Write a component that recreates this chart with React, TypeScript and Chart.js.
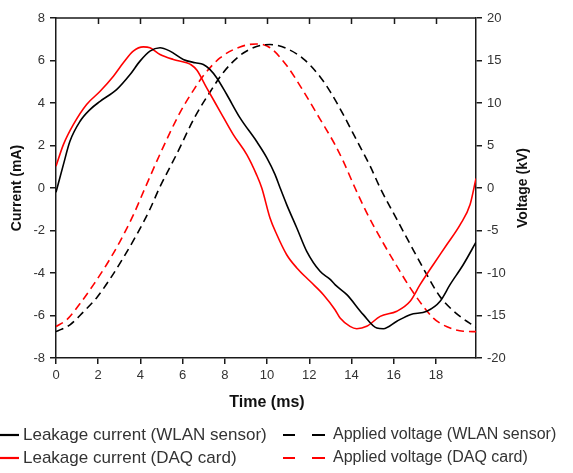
import React, { useEffect, useRef } from 'react';
import { Chart, registerables } from 'chart.js';

Chart.register(...registerables);

// ---- Data (time in ms) ----
const wlanCurrentT = [0, 0.35, 0.66, 1.14, 1.61, 2.09, 2.87, 3.51, 3.98, 4.45, 4.93, 5.4, 6.03, 6.6, 6.98, 7.3, 7.62, 8.09, 8.72, 9.5, 9.99, 10.38, 10.62, 10.93, 11.41, 11.88, 12.51, 12.99, 13.22, 13.78, 14.56, 15.2, 15.51, 16.15, 16.78, 17.57, 18.2, 18.67, 19.3, 19.9];
const wlanCurrentMA = [-0.2, 1.1, 2.2, 3.14, 3.69, 4.08, 4.63, 5.34, 5.97, 6.44, 6.6, 6.44, 6.05, 5.89, 5.81, 5.57, 5.18, 4.4, 3.3, 2.2, 1.42, 0.63, 0.0, -0.78, -1.88, -2.98, -3.92, -4.3, -4.55, -5.02, -5.96, -6.59, -6.62, -6.27, -5.96, -5.8, -5.33, -4.55, -3.6, -2.55];

const daqCurrentT = [0, 0.35, 0.82, 1.45, 2.09, 2.72, 3.19, 3.66, 4.14, 4.45, 4.93, 5.56, 6.19, 6.4, 6.67, 7.14, 7.77, 8.4, 9.04, 9.5, 9.75, 10.14, 10.46, 10.93, 11.41, 12.04, 12.67, 13.22, 13.46, 13.93, 14.25, 14.72, 15.36, 16.15, 16.78, 17.25, 17.88, 18.52, 19.15, 19.62, 19.9];
const daqCurrentMA = [1.02, 2.04, 2.98, 3.93, 4.55, 5.26, 5.89, 6.44, 6.64, 6.6, 6.28, 6.05, 5.89, 5.8, 5.55, 4.71, 3.61, 2.51, 1.57, 0.63, 0.0, -1.41, -2.19, -3.14, -3.76, -4.39, -5.02, -5.73, -6.12, -6.51, -6.62, -6.51, -6.04, -5.8, -5.33, -4.55, -3.6, -2.66, -1.72, -0.78, 0.45];

const wlanVoltageT = [0, 0.66, 1.29, 1.93, 2.56, 3.19, 3.82, 4.45, 4.9, 5.72, 6.59, 7.3, 7.93, 8.72, 9.5, 10.14, 10.93, 11.72, 12.51, 13.0, 13.62, 14.25, 14.88, 15.36, 16.15, 16.93, 17.57, 18.2, 18.99, 19.9];
const wlanVoltageKV = [-16.9, -16.1, -14.6, -12.9, -10.7, -8.2, -5.5, -2.5, 0, 4.0, 8.4, 11.3, 13.6, 15.6, 16.65, 16.88, 16.4, 15.2, 13.1, 11.3, 8.6, 5.6, 2.6, 0, -3.7, -7.3, -10.2, -12.8, -14.8, -16.4];

const daqVoltageT = [0, 0.51, 1.14, 1.77, 2.4, 3.03, 3.66, 4.22, 4.93, 5.88, 6.59, 6.98, 7.77, 8.72, 9.5, 10.14, 10.93, 11.72, 12.51, 13.22, 13.62, 14.17, 14.72, 15.51, 16.15, 16.93, 17.88, 18.5, 19.3, 19.9];
const daqVoltageKV = [-16.3, -15.5, -13.6, -11.4, -9.0, -6.3, -3.2, 0, 4.0, 8.9, 11.8, 13.2, 15.3, 16.6, 16.95, 16.5, 14.4, 11.4, 8.1, 5.1, 3.1, 0, -2.9, -6.5, -9.2, -12.3, -15.3, -16.3, -16.85, -16.9];

const xTickValues = [0, 2, 4, 6, 8, 10, 12, 14, 16, 18];
const legendLabels = [
  'Leakage current (WLAN sensor)',
  'Leakage current (DAQ card)',
  'Applied voltage (WLAN sensor)',
  'Applied voltage (DAQ card)',
];
const xTitle = 'Time (ms)';
const yTitle = 'Current (mA)';
const y2Title = 'Voltage (kV)';

const BLACK = '#000000';
const RED = '#ff0000';
const AXIS = '#1a1a1a';
const TEXT = '#333333';
const FONT = "'Liberation Sans', Arial, sans-serif";

const pts = (ts: number[], vs: number[]) => ts.map((t, i) => ({ x: t, y: vs[i] }));

const decorPlugin = {
  id: 'decor',
  afterDraw(chart: any) {
    const { ctx, chartArea: a, scales } = chart;
    ctx.save();
    // top frame line and inward ticks
    ctx.strokeStyle = AXIS;
    ctx.lineWidth = 1.5;
    ctx.beginPath();
    ctx.moveTo(a.left, a.top);
    ctx.lineTo(a.right, a.top);
    for (const v of xTickValues) {
      if (v === 0) continue;
      const px = Math.round(scales.x.getPixelForValue(v)) + 0.5;
      ctx.moveTo(px, a.top);
      ctx.lineTo(px, a.top + 6);
    }
    ctx.stroke();

    // axis titles
    ctx.fillStyle = '#111';
    ctx.textAlign = 'center';
    ctx.textBaseline = 'middle';
    ctx.font = `bold 16px ${FONT}`;
    ctx.fillText(xTitle, 267, 403);

    ctx.font = `bold 14px ${FONT}`;
    ctx.save();
    ctx.translate(17, (a.top + a.bottom) / 2);
    ctx.rotate(-Math.PI / 2);
    ctx.fillText(yTitle, 0, 0);
    ctx.restore();

    ctx.save();
    ctx.translate(523, (a.top + a.bottom) / 2);
    ctx.rotate(-Math.PI / 2);
    ctx.fillText(y2Title, 0, 0);
    ctx.restore();

    // legend
    const rows = [435, 458];
    ctx.lineWidth = 2.2;
    ctx.textAlign = 'left';
    ctx.fillStyle = TEXT;
    // column 1 (solid)
    ctx.font = `17px ${FONT}`;
    [BLACK, RED].forEach((c, i) => {
      ctx.strokeStyle = c;
      ctx.beginPath();
      ctx.moveTo(0, rows[i]);
      ctx.lineTo(19, rows[i]);
      ctx.stroke();
      ctx.fillText(legendLabels[i], 23, rows[i]);
    });
    // column 2 (dashed)
    ctx.font = `16px ${FONT}`;
    [BLACK, RED].forEach((c, i) => {
      ctx.strokeStyle = c;
      ctx.beginPath();
      ctx.moveTo(283, rows[i]);
      ctx.lineTo(295, rows[i]);
      ctx.moveTo(312, rows[i]);
      ctx.lineTo(325, rows[i]);
      ctx.stroke();
      ctx.fillText(legendLabels[i + 2], 333, rows[i]);
    });
    ctx.restore();
  },
};

export default function App() {
  const ref = useRef<HTMLCanvasElement | null>(null);
  useEffect(() => {
    if (!ref.current) return;
    const tickFont = { family: FONT, size: 13 };
    const common = { pointRadius: 0, borderWidth: 1.6, cubicInterpolationMode: 'monotone' };
    const chart = new Chart(ref.current, {
      type: 'line',
      data: {
        datasets: [
          { ...common, label: legendLabels[0], data: pts(wlanCurrentT, wlanCurrentMA), borderColor: BLACK, yAxisID: 'y' },
          { ...common, label: legendLabels[1], data: pts(daqCurrentT, daqCurrentMA), borderColor: RED, yAxisID: 'y' },
          { ...common, label: legendLabels[2], data: pts(wlanVoltageT, wlanVoltageKV), borderColor: BLACK, borderDash: [8, 5], yAxisID: 'y2' },
          { ...common, label: legendLabels[3], data: pts(daqVoltageT, daqVoltageKV), borderColor: RED, borderDash: [8, 5], yAxisID: 'y2' },
        ],
      } as any,
      options: {
        animation: false,
        responsive: false,
        devicePixelRatio: 1,
        layout: { padding: { top: 18, left: 0, right: 0, bottom: 0 } },
        plugins: { legend: { display: false }, tooltip: { enabled: false } },
        scales: {
          x: {
            type: 'linear',
            position: 'bottom',
            min: 0,
            max: 19.9,
            afterBuildTicks: (s: any) => {
              s.ticks = xTickValues.map((v) => ({ value: v }));
            },
            afterFit: (s: any) => {
              s.height = 115;
            },
            ticks: { font: tickFont, color: TEXT, padding: 4, maxRotation: 0, autoSkip: false },
            grid: { drawOnChartArea: false, drawTicks: true, tickLength: 6, color: AXIS, lineWidth: 1.5 },
            border: { display: true, color: AXIS, width: 1.5 },
          },
          y: {
            type: 'linear',
            position: 'left',
            min: -8,
            max: 8,
            ticks: { stepSize: 2, font: tickFont, color: TEXT, padding: 5 },
            afterFit: (s: any) => {
              s.width = 56;
            },
            grid: { drawOnChartArea: false, drawTicks: true, tickLength: 6, color: AXIS, lineWidth: 1.5 },
            border: { display: true, color: AXIS, width: 1.5 },
          },
          y2: {
            type: 'linear',
            position: 'right',
            min: -20,
            max: 20,
            ticks: { stepSize: 5, font: tickFont, color: TEXT, padding: 5 },
            afterFit: (s: any) => {
              s.width = 97;
            },
            grid: { drawOnChartArea: false, drawTicks: true, tickLength: 6, color: AXIS, lineWidth: 1.5 },
            border: { display: true, color: AXIS, width: 1.5 },
          },
        },
      } as any,
      plugins: [decorPlugin],
    });
    return () => chart.destroy();
  }, []);

  return (
    <div style={{ position: 'absolute', left: 0, top: 0, width: 573, height: 473, background: '#fff' }}>
      <canvas ref={ref} width={573} height={473} style={{ display: 'block', width: 573, height: 473 }} />
    </div>
  );
}
